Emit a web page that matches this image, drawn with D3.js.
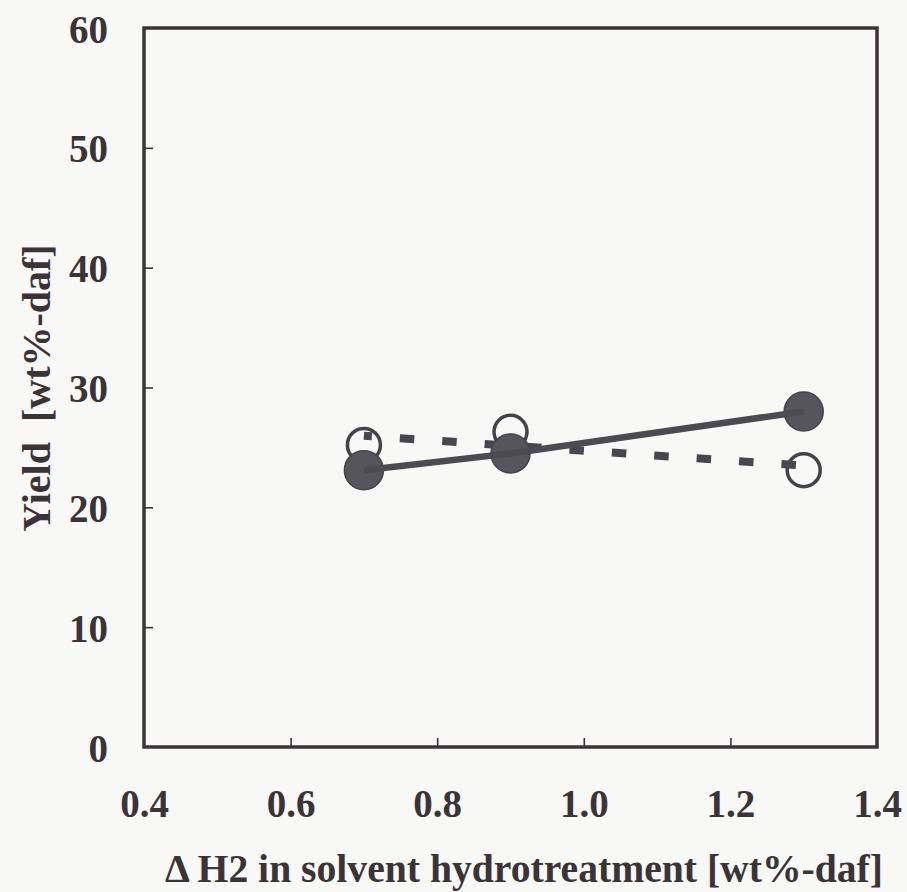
<!DOCTYPE html>
<html>
<head>
<meta charset="utf-8">
<script src="https://cdn.jsdelivr.net/npm/d3@7"></script>
<style>
  body { margin: 0; background: #f8f8f6; }
  svg { display: block; }
  text { font-family: "Liberation Serif", "Times New Roman", serif; font-weight: bold; fill: #3a3438; }
</style>
</head>
<body>
<svg width="907" height="892"></svg>
<script>
// data
var hydrogen = [0.7, 0.9, 1.3];           // x: ΔH2 in solvent hydrotreatment
var yieldFilled = [23.1, 24.5, 28.0];     // filled circles, solid line
var yieldOpen = [25.2, 26.3, 23.1];       // open circles, dashed line
var xTicks = [0.4, 0.6, 0.8, 1.0, 1.2, 1.4];
var yTicks = [0, 10, 20, 30, 40, 50, 60];

var svg = d3.select("svg"),
    margin = { top: 28, right: 30, bottom: 145, left: 144 },
    width = svg.attr("width") - margin.left - margin.right,
    height = svg.attr("height") - margin.top - margin.bottom;

var ink = "#3a3438";

var x = d3.scaleLinear().domain([0.4, 1.4]).range([0, width]);
var y = d3.scaleLinear().domain([0, 60]).range([height, 0]);

var g = svg.append("g")
    .attr("transform", "translate(" + margin.left + "," + margin.top + ")");

// least squares line through a series
function fit(xs, ys) {
    var mx = d3.mean(xs), my = d3.mean(ys);
    var sxy = d3.sum(xs, function(d, i) { return (d - mx) * (ys[i] - my); });
    var sxx = d3.sum(xs, function(d) { return (d - mx) * (d - mx); });
    var b = sxy / sxx, a = my - b * mx;
    return d3.extent(xs).map(function(v) { return [v, a + b * v]; });
}

// axes, ticks inside, labels only
var xAxis = g.append("g")
    .attr("transform", "translate(0," + height + ")")
    .call(d3.axisBottom(x).tickValues(xTicks).tickSize(-9).tickPadding(70)
        .tickFormat(d3.format(".1f")));
var yAxis = g.append("g")
    .call(d3.axisLeft(y).tickValues(yTicks).tickSize(-9).tickPadding(36)
        .tickFormat(d3.format("d")));

[xAxis, yAxis].forEach(function(a) {
    a.select(".domain").remove();
    a.selectAll("line").attr("stroke", ink).attr("stroke-width", 1.6);
    a.selectAll("text").style("font-size", "39px").attr("fill", ink)
        .style("font-family", "'Liberation Serif', serif").style("font-weight", "bold");
});
xAxis.selectAll(".tick").filter(function(d) { return d === 0.4 || d === 1.4; }).select("line").remove();
yAxis.selectAll(".tick").filter(function(d) { return d === 0 || d === 60; }).select("line").remove();
xAxis.selectAll("text").attr("dy", "0");
yAxis.selectAll("text").attr("dy", "0.36em");

// frame
g.append("rect")
    .attr("width", width).attr("height", height)
    .attr("fill", "none").attr("stroke", ink).attr("stroke-width", 3.5);

var line = d3.line()
    .x(function(d) { return x(d[0]); })
    .y(function(d) { return y(d[1]); });

var open = hydrogen.map(function(d, i) { return [d, yieldOpen[i]]; });
var filled = hydrogen.map(function(d, i) { return [d, yieldFilled[i]]; });

// open circles
g.selectAll(".open").data(open).enter().append("circle")
    .attr("class", "open")
    .attr("cx", function(d) { return x(d[0]); })
    .attr("cy", function(d) { return y(d[1]); })
    .attr("r", 16.5)
    .attr("fill", "#f8f8f6")
    .attr("stroke", "#45424a").attr("stroke-width", 3.5);

// dashed fit through open circles
g.append("path")
    .attr("d", line(fit(hydrogen, yieldOpen)))
    .attr("fill", "none")
    .attr("stroke", "#4a4650").attr("stroke-width", 8)
    .attr("stroke-dasharray", "14.5,28")
    .attr("stroke-dashoffset", 6.5);

// filled circles + solid line
g.selectAll(".filled").data(filled).enter().append("circle")
    .attr("class", "filled")
    .attr("cx", function(d) { return x(d[0]); })
    .attr("cy", function(d) { return y(d[1]); })
    .attr("r", 19.5)
    .attr("fill", "#56545c")
    .attr("stroke", "#45424a").attr("stroke-width", 1.5);

g.append("path")
    .attr("d", line(filled))
    .attr("fill", "none")
    .attr("stroke", "#4d4a52").attr("stroke-width", 6.5)
    .attr("stroke-linejoin", "round");

// axis titles
svg.append("text")
    .attr("x", 165).attr("y", 882)
    .style("font-size", "39px")
    .attr("textLength", 718).attr("lengthAdjust", "spacingAndGlyphs")
    .text("Δ H2 in solvent hydrotreatment [wt%-daf]");

svg.append("text")
    .attr("transform", "translate(50,388) rotate(-90)")
    .attr("text-anchor", "middle")
    .style("font-size", "40px")
    .style("white-space", "pre")
    .text("Yield  [wt%-daf]");
</script>
</body>
</html>
